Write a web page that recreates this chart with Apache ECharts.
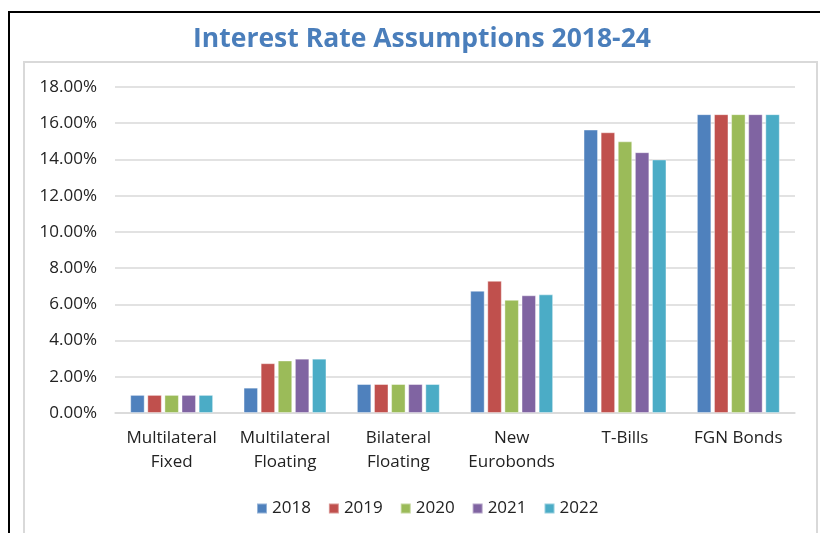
<!DOCTYPE html>
<html>
<head>
<meta charset="utf-8">
<script src="https://cdn.jsdelivr.net/npm/echarts@6/dist/echarts.min.js"></script>
<style>html,body{margin:0;padding:0;background:#fff}#c{width:820px;height:533px}</style>
</head>
<body>
<div id="c"></div>
<script>
var categories = ['Multilateral\nFixed', 'Multilateral\nFloating', 'Bilateral\nFloating', 'New\nEurobonds', 'T-Bills', 'FGN Bonds'];
var years = ['2018', '2019', '2020', '2021', '2022'];
var colors = ['#4F81BD', '#C0504D', '#9BBB59', '#8064A2', '#4BACC6'];
var v2018 = [1.0, 1.4, 1.6, 6.75, 15.65, 16.5];
var v2019 = [1.0, 2.75, 1.6, 7.3, 15.5, 16.5];
var v2020 = [1.0, 2.9, 1.6, 6.25, 15.0, 16.5];
var v2021 = [1.0, 3.0, 1.6, 6.5, 14.4, 16.5];
var v2022 = [1.0, 3.0, 1.6, 6.55, 14.0, 16.5];
var seriesValues = [v2018, v2019, v2020, v2021, v2022];
var yMax = 18, yInterval = 2;
var titleText = 'Interest Rate Assumptions 2018-24';

var font = 'Open Sans';
var chart = echarts.init(document.getElementById('c'), null, {renderer: 'canvas'});
chart.setOption({
  animation: false,
  color: colors,
  title: {
    text: titleText,
    left: 417, top: 21, textAlign: 'center',
    textStyle: {fontFamily: font, fontSize: 26.5, fontWeight: 'bold', color: '#4A7EBB'}
  },
  graphic: [
    {type: 'rect', shape: {x: 9, y: 12, width: 900, height: 600}, style: {fill: 'none', stroke: '#000', lineWidth: 2}, silent: true},
    {type: 'rect', shape: {x: 24, y: 62, width: 793, height: 600}, style: {fill: 'none', stroke: '#d9d9d9', lineWidth: 2}, silent: true}
  ],
  legend: {
    data: years, left: 251, top: 495, itemWidth: 10, itemHeight: 10, itemGap: 17,
    icon: 'rect',
    textStyle: {fontFamily: font, fontSize: 17, color: '#222'}
  },
  grid: {left: 115, right: 25, top: 87, bottom: 120, containLabel: false},
  xAxis: {
    type: 'category', data: categories,
    axisLine: {lineStyle: {color: '#d9d9d9', width: 1.5}},
    axisTick: {show: false},
    axisLabel: {fontFamily: font, fontSize: 17, color: '#222', lineHeight: 24, margin: 13, interval: 0}
  },
  yAxis: {
    type: 'value', min: 0, max: yMax, interval: yInterval,
    axisLine: {show: false}, axisTick: {show: false},
    splitLine: {lineStyle: {color: '#d9d9d9', width: 1.5}},
    axisLabel: {fontFamily: font, fontSize: 17, color: '#222', margin: 18,
      formatter: function (v) { return v.toFixed(2) + '%'; }}
  },
  series: years.map(function (y, i) {
    return {
      name: y, type: 'bar', data: seriesValues[i], barWidth: 14.5, barGap: '18%',
      itemStyle: {color: colors[i], borderColor: 'rgba(255,255,255,0.4)', borderWidth: 1}
    };
  })
});
</script>
</body>
</html>
